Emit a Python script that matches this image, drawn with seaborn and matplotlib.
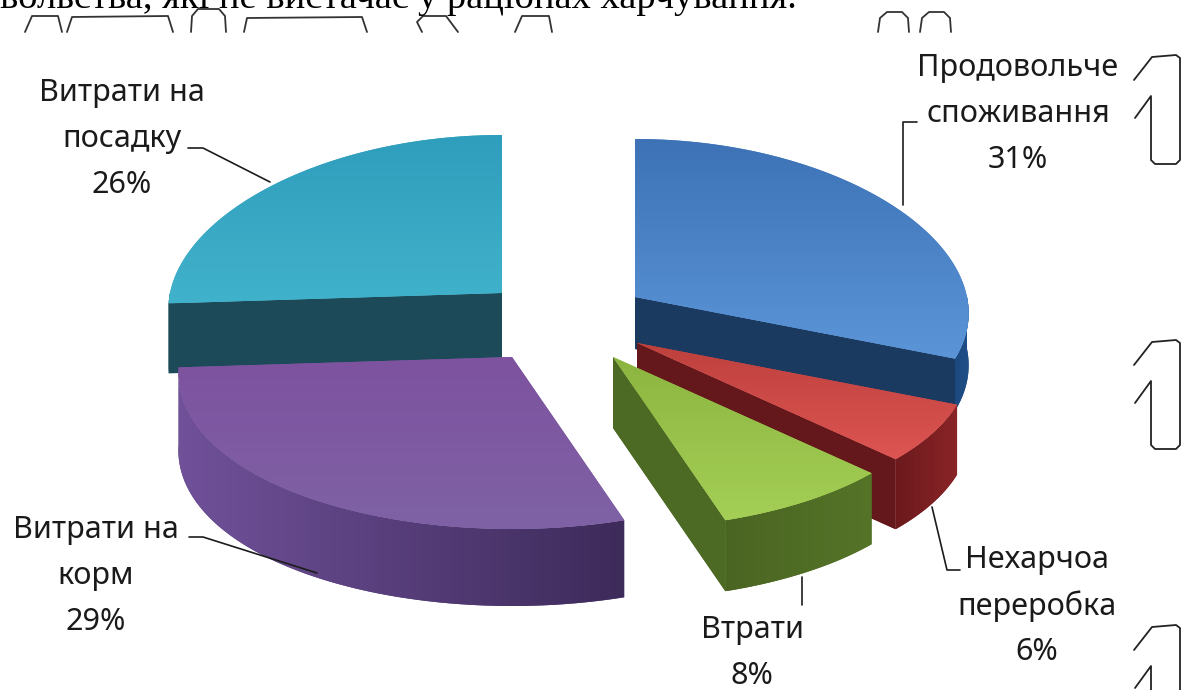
import numpy as np
import matplotlib
matplotlib.use("Agg")
import matplotlib.pyplot as plt
from matplotlib.colors import LinearSegmentedColormap
from matplotlib.patches import Polygon
import seaborn as sns

# Shares of the balance, clockwise from twelve o'clock
categories = [["Продовольче", "споживання"], ["Нехарчоа", "переробка"], ["Втрати"],
              ["Витрати на", "корм"], ["Витрати на", "посадку"]]
shares = [31, 6, 8, 29, 26]

# Exploded position of each slice's apex and the thickness of its wall
apex_x = [635, 637, 613, 512, 502]
apex_y = [297, 343, 357, 357, 293]
slice_depth = [52, 70, 71, 77, 70]

# (top start, top end, cut face, rim start, rim end)
slice_colours = [
    ("#3d72b6", "#5b95d8", "#1b3a60", "#1c4a80", "#1f4f88"),
    ("#bd403d", "#dd5552", "#65181b", "#6c1a1d", "#8a2427"),
    ("#8cb540", "#a4cf56", "#4d6a24", "#4a6522", "#557428"),
    ("#7d529f", "#7f62a5", "#3b2a58", "#70519a", "#3d2b5a"),
    ("#2f9dbc", "#41b2cb", "#1d4a58", "#1d4a58", "#1d4a58"),
]
draw_order = [4, 0, 1, 3, 2]

# Where each stacked label line sits
label_x = [1018, 1037, 752, 96, 122]
label_y = [68, 560, 630, 530, 93]
line_step = 46

# Thin leader lines from slices to labels
leaders = [
    ([903, 903, 917], [205, 122, 122]),
    ([932, 947, 960], [507, 570, 570]),
    ([802, 802], [577, 605]),
    ([189, 203, 317], [537, 537, 573]),
    ([188, 203, 270], [148, 148, 182]),
]

top_line = "вольства, які не вистачає у раціонах харчування."

# Pen strokes left over from the page above and beside the chart
page_hooks = [
    ([25, 32, 58, 62], [32, 16, 16, 32]),
    ([67, 72, 168, 173], [32, 17, 16, 32]),
    ([191, 192, 198, 219, 225, 226], [32, 16, 9, 9, 16, 32]),
    ([244, 247, 362, 367], [32, 18, 17, 32]),
    ([422, 417, 423, 446, 458], [32, 22, 16, 16, 32]),
    ([515, 522, 549, 552], [32, 16, 16, 32]),
    ([878, 880, 887, 902, 908, 909], [32, 18, 12, 12, 18, 32]),
    ([920, 922, 929, 944, 950, 951], [32, 18, 12, 12, 18, 32]),
]
side_hook_x = [1134, 1152, 1176, 1180, 1180, 1176, 1155, 1151, 1151, 1135]
side_hook_y = [80, 57, 55, 58, 160, 164, 164, 160, 96, 118]
side_hook_shift = [0, 285, 570]

RX, RY = 332, 165
PERSP_X, PERSP_Y = 0.10, 7


def rim_point(x0, y0, deg):
    # Elliptical rim with a slight enlargement towards the viewer
    t = np.radians(deg)
    s, c = np.sin(t), np.cos(t)
    return x0 + RX * s * (1 - PERSP_X * c), y0 - c * (RY - PERSP_Y * c)


def shade(ax, pts, c0, c1, axis, z):
    # Fill a polygon with a linear gradient clipped to its outline
    pts = np.asarray(pts)
    patch = Polygon(pts, closed=True, facecolor=sns.blend_palette([c0, c1], 3)[1],
                    edgecolor="none", zorder=z)
    ax.add_patch(patch)
    ramp = np.linspace(0, 1, 128)
    grid = ramp[None, :] if axis == "x" else ramp[:, None]
    cmap = LinearSegmentedColormap.from_list("face", [c0, c1])
    img = ax.imshow(grid, cmap=cmap, vmin=0, vmax=1, aspect="auto", zorder=z,
                    extent=[pts[:, 0].min(), pts[:, 0].max(), pts[:, 1].max(), pts[:, 1].min()])
    img.set_clip_path(patch)


sns.set_theme(style="white")
plt.rcParams["font.family"] = ["Noto Sans", "DejaVu Sans"]

fig, ax = plt.subplots(figsize=(11.89, 6.9), dpi=100)
fig.subplots_adjust(0, 0, 1, 1)
ax.set_axis_off()

edges = np.concatenate([[0], np.cumsum(shares)]) / np.sum(shares) * 360

for z, i in enumerate(draw_order):
    start, end = edges[i], edges[i + 1]
    x0, y0 = apex_x[i], apex_y[i]
    depth = slice_depth[i]
    top_c0, top_c1, cut_c, rim_c0, rim_c1 = slice_colours[i]
    base = 10 + z * 5
    mid = rim_point(x0, y0, (start + end) / 2)

    # Straight cut faces that turn towards the viewer
    for deg in (start, end):
        ex, ey = rim_point(x0, y0, deg)
        if abs(ex - x0) < 1:
            continue
        line_at_mid = y0 + (ey - y0) * (mid[0] - x0) / (ex - x0)
        if mid[1] < line_at_mid:
            face = [(x0, y0), (ex, ey), (ex, ey + depth), (x0, y0 + depth)]
            shade(ax, face, cut_c, cut_c, "x", base)

    # Outer wall along the front half of the rim
    lo, hi = max(start, 90), min(end, 270)
    if hi > lo:
        rim = np.array([rim_point(x0, y0, d) for d in np.linspace(lo, hi, 80)])
        wall = np.vstack([rim, (rim + [0, depth])[::-1]])
        shade(ax, wall, rim_c0, rim_c1, "x", base + 1)

    # Top surface
    arc = [rim_point(x0, y0, d) for d in np.linspace(start, end, 120)]
    shade(ax, [(x0, y0)] + arc, top_c0, top_c1, "y", base + 2)

ax.set_xlim(0, 1189)
ax.set_ylim(690, 0)

for xs, ys in leaders:
    ax.plot(xs, ys, color="#1c1c1c", lw=1.2, zorder=60)

for i, lines in enumerate(categories):
    rows = lines + [f"{shares[i]}%"]
    for k, row in enumerate(rows):
        ax.text(label_x[i], label_y[i] + k * line_step, row, ha="center", va="center",
                fontsize=22, color="#1a1a1a", zorder=70)

ax.text(0, 8, top_line, family="Liberation Serif", fontsize=27.7, color="black",
        ha="left", va="baseline", zorder=70)

for xs, ys in page_hooks:
    ax.plot(xs, ys, color="#333333", lw=1.3, solid_joinstyle="round", zorder=65)
for dy in side_hook_shift:
    ax.plot(side_hook_x, np.array(side_hook_y) + dy, color="#222222", lw=1.3,
            solid_joinstyle="round", zorder=65)

fig.savefig("out.png", dpi=100, facecolor="white")
